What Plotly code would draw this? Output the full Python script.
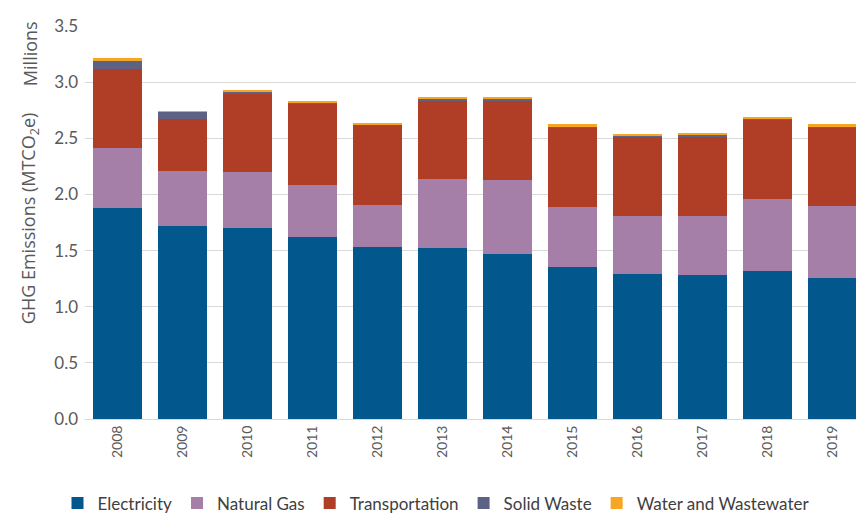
import plotly.graph_objects as go

years = ["2008", "2009", "2010", "2011", "2012", "2013", "2014", "2015", "2016", "2017", "2018", "2019"]
electricity = [1.88, 1.72, 1.70, 1.62, 1.53, 1.52, 1.47, 1.35, 1.29, 1.28, 1.32, 1.26]
natural_gas = [0.53, 0.49, 0.50, 0.46, 0.38, 0.62, 0.66, 0.54, 0.52, 0.53, 0.64, 0.64]
transportation = [0.71, 0.46, 0.70, 0.73, 0.71, 0.70, 0.71, 0.71, 0.71, 0.71, 0.71, 0.70]
solid_waste = [0.075, 0.065, 0.008, 0.006, 0.006, 0.006, 0.006, 0.008, 0.006, 0.006, 0.006, 0.008]
water = [0.017, 0.008, 0.018, 0.012, 0.012, 0.018, 0.020, 0.015, 0.012, 0.018, 0.015, 0.015]

series = [
    ("Electricity", electricity, "#02578D"),
    ("Natural Gas", natural_gas, "#A57FA8"),
    ("Transportation", transportation, "#B03D26"),
    ("Solid Waste", solid_waste, "#5D6284"),
    ("Water and Wastewater", water, "#F6A623"),
]

FONT = "Century Gothic, Lato, sans-serif"
WIDE = "Century Gothic, Open Sans, sans-serif"
fig = go.Figure()
for name, vals, color in series:
    fig.add_trace(go.Bar(x=years, y=vals, name=name, marker=dict(color=color, line=dict(width=0)),
                         hoverinfo="x+y+name"))

fig.update_layout(
    barmode="stack",
    bargap=0.26,
    width=864, height=521,
    margin=dict(l=77, r=7, t=12, b=98),
    plot_bgcolor="white", paper_bgcolor="white",
    font=dict(family=FONT, color="#595959", size=16),
    xaxis=dict(tickangle=-90, tickfont=dict(size=14, color="#595959"), showgrid=False,
               showline=True, linecolor="#D9D9D9", linewidth=1, ticks=""),
    yaxis=dict(range=[0, 3.5], dtick=0.5, tickformat=".1f", showgrid=True, gridcolor="#D9D9D9",
               gridwidth=1, zeroline=False, tickfont=dict(size=17, color="#595959"), ticks="",
               ticklabelstandoff=6),
    legend=dict(orientation="h", x=0.45, xanchor="center", y=-0.215, yanchor="middle",
                font=dict(size=17, color="#404040", family=FONT), traceorder="normal",
                itemwidth=30),
    showlegend=True,
    annotations=[
        dict(text="GHG Emissions (MTCO<sub>2</sub>e)", textangle=-90, xref="paper", yref="paper",
             x=-0.071, y=0.51, xanchor="center", yanchor="middle", showarrow=False,
             font=dict(size=18, color="#595959", family=WIDE)),
        dict(text="Millions", textangle=-90, xref="paper", yref="paper",
             x=-0.071, y=0.93, xanchor="center", yanchor="middle", showarrow=False,
             font=dict(size=18, color="#595959", family=WIDE)),
    ],
)

fig.write_html("out.html")
